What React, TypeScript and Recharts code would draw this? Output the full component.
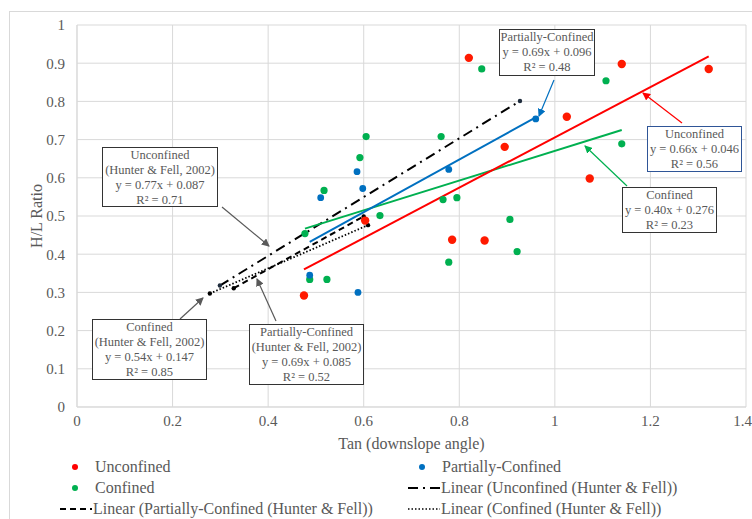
import React from "react";
import { ScatterChart, Scatter, XAxis, YAxis, CartesianGrid } from "recharts";

const xTicks = [0, 0.2, 0.4, 0.6, 0.8, 1, 1.2, 1.4];
const yTicks = [0, 0.1, 0.2, 0.3, 0.4, 0.5, 0.6, 0.7, 0.8, 0.9, 1];

// observed points
const unconfined = [
  { x: 0.82, y: 0.914 },
  { x: 1.14, y: 0.898 },
  { x: 1.322, y: 0.885 },
  { x: 1.025, y: 0.76 },
  { x: 0.895, y: 0.681 },
  { x: 1.073, y: 0.598 },
  { x: 0.603, y: 0.488 },
  { x: 0.785, y: 0.438 },
  { x: 0.853, y: 0.436 },
  { x: 0.475, y: 0.292 },
];

const partiallyConfined = [
  { x: 0.51, y: 0.548 },
  { x: 0.586, y: 0.616 },
  { x: 0.598, y: 0.572 },
  { x: 0.487, y: 0.345 },
  { x: 0.588, y: 0.3 },
  { x: 0.778, y: 0.622 },
  { x: 0.96, y: 0.754 },
];

const confined = [
  { x: 0.605, y: 0.708 },
  { x: 0.762, y: 0.708 },
  { x: 0.592, y: 0.653 },
  { x: 0.517, y: 0.567 },
  { x: 0.634, y: 0.501 },
  { x: 0.847, y: 0.885 },
  { x: 1.107, y: 0.854 },
  { x: 1.14, y: 0.689 },
  { x: 0.795, y: 0.548 },
  { x: 0.766, y: 0.543 },
  { x: 0.906, y: 0.491 },
  { x: 0.921, y: 0.407 },
  { x: 0.778, y: 0.379 },
  { x: 0.477, y: 0.454 },
  { x: 0.487, y: 0.334 },
  { x: 0.523, y: 0.334 },
];

// trendline end points
const unconfinedTrend = [
  { x: 0.475, y: 0.36 },
  { x: 1.322, y: 0.918 },
];
const partiallyTrend = [
  { x: 0.487, y: 0.432 },
  { x: 0.96, y: 0.758 },
];
const confinedTrend = [
  { x: 0.477, y: 0.467 },
  { x: 1.14, y: 0.725 },
];
const hfUnconfined = [
  { x: 0.299, y: 0.318 },
  { x: 0.927, y: 0.801 },
];
const hfPartially = [
  { x: 0.328, y: 0.311 },
  { x: 0.6, y: 0.499 },
];
const hfConfined = [
  { x: 0.278, y: 0.297 },
  { x: 0.609, y: 0.476 },
];

const serif = '"Liberation Serif", "Times New Roman", serif';
const textGray = "#595959";

const dot = (r: number, fill: string) => (p: any) => (
  <circle cx={p.cx} cy={p.cy} r={r} fill={fill} />
);
const noDot = () => <g />;

const boxStyle = (left: number, top: number, width: number, height: number, border = "#333333") => ({
  position: "absolute" as const,
  left,
  top,
  width,
  height,
  boxSizing: "border-box" as const,
  border: `1.5px solid ${border}`,
  background: "#ffffff",
  color: textGray,
  fontFamily: serif,
  fontSize: 12.5,
  lineHeight: "15px",
  textAlign: "center" as const,
  paddingTop: 0,
});

const arrows = [
  { x1: 554, y1: 80, x2: 539, y2: 116, c: "#0070C0" },
  { x1: 682, y1: 123, x2: 643, y2: 93, c: "#FF0000" },
  { x1: 627, y1: 186, x2: 585, y2: 146, c: "#00B050" },
  { x1: 222, y1: 207, x2: 269, y2: 246, c: "#595959" },
  { x1: 180, y1: 319, x2: 203, y2: 298, c: "#595959" },
  { x1: 276, y1: 321, x2: 257, y2: 279, c: "#595959" },
];

const legendItem = (left: number, top: number, sym: React.ReactNode, label: string) => (
  <div style={{ position: "absolute", left, top, display: "flex", alignItems: "center", height: 20 }}>
    {sym}
    <span style={{ fontFamily: serif, fontSize: 16, color: textGray, whiteSpace: "nowrap" }}>{label}</span>
  </div>
);

const legendDot = (c: string) => (
  <svg width={35} height={20}>
    <circle cx={15} cy={10} r={3} fill={c} />
  </svg>
);
const legendLine = (dash: string, w = 2) => (
  <svg width={35} height={20}>
    <line x1={2} y1={10} x2={34} y2={10} stroke="#000" strokeWidth={w} strokeDasharray={dash} />
  </svg>
);

export default function App() {
  return (
    <div style={{ position: "absolute", left: 0, top: 0, width: 752, height: 519, overflow: "hidden", background: "#fff" }}>
      <div style={{ position: "absolute", left: 9, top: 11, width: 800, height: 600, border: "1px solid #d9d9d9" }} />
      <ScatterChart
        width={752}
        height={519}
        margin={{ top: 25, right: 6, left: 0, bottom: 0 }}
        style={{ position: "absolute", left: 0, top: 0 }}
      >
        <CartesianGrid stroke="#d9d9d9" strokeWidth={1} />
        <XAxis
          type="number"
          dataKey="x"
          domain={[0, 1.4]}
          ticks={xTicks}
          height={112}
          tickLine={false}
          axisLine={{ stroke: "#d9d9d9" }}
          tick={{ fill: textGray, fontSize: 15, fontFamily: serif }}
          tickFormatter={(v: number) => String(Math.round(v * 10) / 10)}
          label={{ value: "Tan (downslope angle)", position: "insideTop", offset: 31, fill: textGray, fontSize: 16, fontFamily: serif }}
        />
        <YAxis
          type="number"
          dataKey="y"
          domain={[0, 1]}
          ticks={yTicks}
          width={77}
          tickLine={false}
          axisLine={{ stroke: "#d9d9d9" }}
          tickMargin={6}
          tick={{ fill: textGray, fontSize: 15, fontFamily: serif }}
          tickFormatter={(v: number) => String(Math.round(v * 10) / 10)}
          label={{ value: "H/L Ratio", angle: -90, position: "center", dx: -2, fill: textGray, fontSize: 16, fontFamily: serif }}
        />
        <Scatter data={hfUnconfined} isAnimationActive={false} shape={dot(2.2, "#1f2d3d")} line={{ stroke: "#000", strokeWidth: 2, strokeDasharray: "10 5 2 5" }} />
        <Scatter data={hfPartially} isAnimationActive={false} shape={dot(2.2, "#000")} line={{ stroke: "#000", strokeWidth: 2, strokeDasharray: "6 4" }} />
        <Scatter data={hfConfined} isAnimationActive={false} shape={dot(2.2, "#000")} line={{ stroke: "#000", strokeWidth: 1.8, strokeDasharray: "1.5 2" }} />
        <Scatter data={confinedTrend} isAnimationActive={false} shape={noDot} line={{ stroke: "#00B050", strokeWidth: 2 }} />
        <Scatter data={partiallyTrend} isAnimationActive={false} shape={noDot} line={{ stroke: "#0070C0", strokeWidth: 2 }} />
        <Scatter data={unconfinedTrend} isAnimationActive={false} shape={noDot} line={{ stroke: "#FF0000", strokeWidth: 2 }} />
        <Scatter data={confined} isAnimationActive={false} shape={dot(3.6, "#00B050")} />
        <Scatter data={partiallyConfined} isAnimationActive={false} shape={dot(3.4, "#0070C0")} />
        <Scatter data={unconfined} isAnimationActive={false} shape={dot(4.2, "#FF1A00")} />
      </ScatterChart>

      <svg width={752} height={519} style={{ position: "absolute", left: 0, top: 0, pointerEvents: "none" }}>
        <defs>
          {arrows.map((a, i) => (
            <marker key={i} id={`ah${i}`} markerWidth={8} markerHeight={8} refX={7} refY={4} orient="auto" markerUnits="userSpaceOnUse">
              <path d="M0,0 L8,4 L0,8 Z" fill={a.c} />
            </marker>
          ))}
        </defs>
        {arrows.map((a, i) => (
          <line key={i} x1={a.x1} y1={a.y1} x2={a.x2} y2={a.y2} stroke={a.c} strokeWidth={1.2} markerEnd={`url(#ah${i})`} />
        ))}
      </svg>

      <div style={boxStyle(499, 29, 96, 47)}>
        Partially-Confined<br />y = 0.69x + 0.096<br />R² = 0.48
      </div>
      <div style={boxStyle(647, 126, 95, 46, "#2F5597")}>
        Unconfined<br />y = 0.66x + 0.046<br />R² = 0.56
      </div>
      <div style={boxStyle(622, 187, 95, 46)}>
        Confined<br />y = 0.40x + 0.276<br />R² = 0.23
      </div>
      <div style={boxStyle(102, 147, 116, 60)}>
        Unconfined<br />(Hunter &amp; Fell, 2002)<br />y = 0.77x + 0.087<br />R² = 0.71
      </div>
      <div style={boxStyle(92, 319, 115, 61)}>
        Confined<br />(Hunter &amp; Fell, 2002)<br />y = 0.54x + 0.147<br />R² = 0.85
      </div>
      <div style={boxStyle(249, 324, 115, 61)}>
        Partially-Confined<br />(Hunter &amp; Fell, 2002)<br />y = 0.69x + 0.085<br />R² = 0.52
      </div>

      {legendItem(60, 457, legendDot("#FF0000"), "Unconfined")}
      {legendItem(407, 457, legendDot("#0070C0"), "Partially-Confined")}
      {legendItem(60, 478, legendDot("#00B050"), "Confined")}
      {legendItem(406, 478, legendLine("10 5 2 5"), "Linear (Unconfined (Hunter & Fell))")}
      {legendItem(58, 499, legendLine("6 4"), "Linear (Partially-Confined (Hunter & Fell))")}
      {legendItem(406, 499, legendLine("1.5 2", 1.5), "Linear (Confined (Hunter & Fell))")}
    </div>
  );
}
